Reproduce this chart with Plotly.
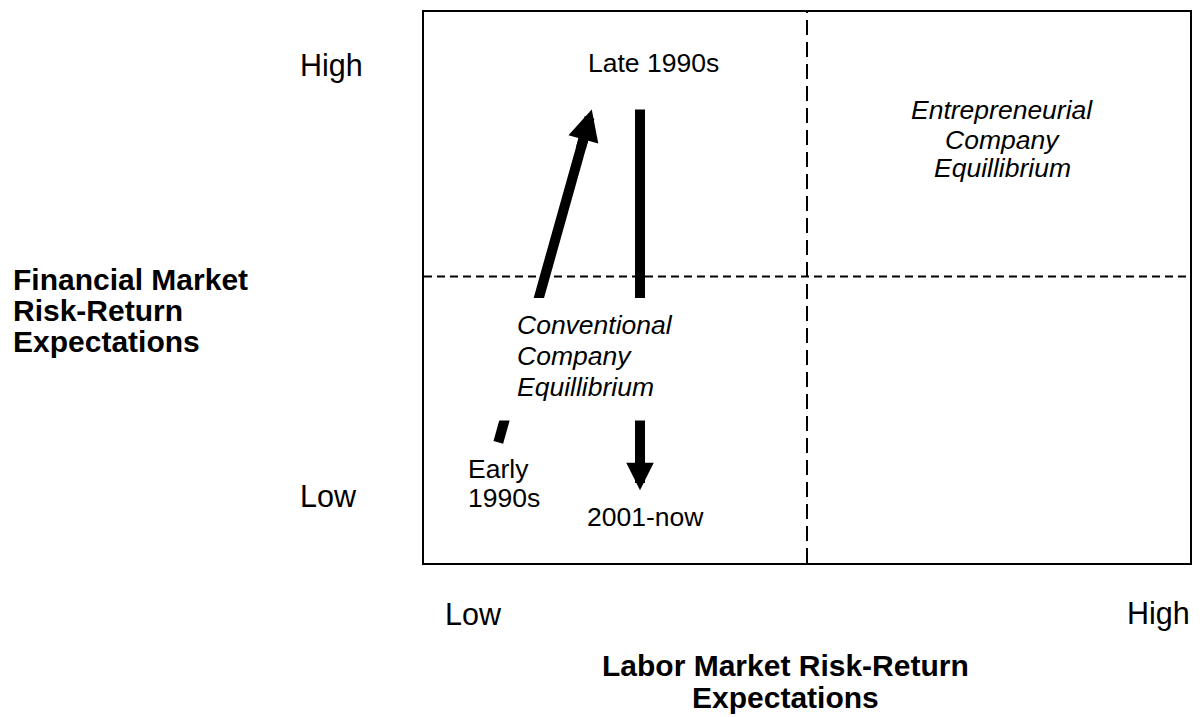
import plotly.graph_objects as go

# ---------------- data (conceptual units: 0 = Low, 1 = High) ----------------
levels = ["Low", "High"]
x_title = ["Labor Market Risk-Return", "Expectations"]
y_title = ["Financial Market", "Risk-Return", "Expectations"]

phases = ["Early 1990s", "Late 1990s", "2001-now"]
# path 1: early 1990s -> late 1990s (labor, financial)
rise_labor = [0.097, 0.219]
rise_fin = [0.219, 0.823]
# path 2: late 1990s -> 2001-now
fall_labor = [0.282, 0.282]
fall_fin = [0.823, 0.132]

divider_labor = 0.5
divider_fin = 0.52

conventional_label = ["Conventional", "Company", "Equillibrium"]
entrepreneurial_label = ["Entrepreneurial", "Company", "Equillibrium"]

# ---------------- layout geometry ----------------
W, H = 1202, 717
L, R, T, B = 424, 12, 10, 154
PW, PH = W - L - R, H - T - B


def xp(px):
    return (px - L) / PW


def yp(py):
    return (H - B - py) / PH


FONT = "Arial, 'Liberation Sans', sans-serif"
OUT = 30.5
TITLE = 30
INS = 26.5

fig = go.Figure()


def lerp(a, b, t):
    return a + (b - a) * t


# arrow bodies (end a little before the tip, the head covers the end)
fig.add_trace(go.Scatter(
    x=[rise_labor[0], lerp(rise_labor[0], rise_labor[1], 0.94)],
    y=[rise_fin[0], lerp(rise_fin[0], rise_fin[1], 0.94)],
    mode="lines", line=dict(color="black", width=10), hoverinfo="skip",
    showlegend=False))
fig.add_trace(go.Scatter(
    x=[fall_labor[0], fall_labor[1]],
    y=[fall_fin[0], lerp(fall_fin[0], fall_fin[1], 0.94)],
    mode="lines", line=dict(color="black", width=10), hoverinfo="skip",
    showlegend=False))

shapes = [
    dict(type="line", xref="x", yref="y", x0=divider_labor, x1=divider_labor,
         y0=0, y1=1, line=dict(color="black", width=2, dash="15px,7px"),
         layer="below"),
    dict(type="line", xref="x", yref="y", x0=0, x1=1, y0=divider_fin,
         y1=divider_fin, line=dict(color="black", width=2, dash="8px,5px"),
         layer="below"),
    # white band behind the "Conventional Company Equillibrium" label
    dict(type="rect", xref="x", yref="y", x0=0.05, x1=0.35,
         y0=yp(420), y1=yp(297), fillcolor="white", line=dict(width=0),
         layer="above"),
]

ann = []
# arrow heads
ann.append(dict(x=rise_labor[1], y=rise_fin[1], xref="x", yref="y",
                ax=lerp(rise_labor[1], rise_labor[0], 0.12),
                ay=lerp(rise_fin[1], rise_fin[0], 0.12),
                axref="x", ayref="y", text="", showarrow=True,
                arrowhead=2, arrowsize=0.62, arrowwidth=10,
                arrowcolor="black", standoff=0))
ann.append(dict(x=fall_labor[1], y=fall_fin[1], xref="x", yref="y",
                ax=fall_labor[1], ay=lerp(fall_fin[1], fall_fin[0], 0.15),
                axref="x", ayref="y", text="", showarrow=True,
                arrowhead=2, arrowsize=0.55, arrowwidth=10,
                arrowcolor="black", standoff=0))


def txt(s, x, y, size, xa="left", bold=False, italic=False):
    if bold:
        s = "<b>" + s + "</b>"
    if italic:
        s = "<i>" + s + "</i>"
    ann.append(dict(text=s, x=x, y=y, xref="paper", yref="paper",
                    xanchor=xa, yanchor="middle", showarrow=False,
                    font=dict(family=FONT, size=size, color="black")))


# phase labels
txt(phases[1], xp(653), yp(61), INS, xa="center")
txt("Early", xp(466), yp(469), INS)
txt("1990s", xp(466), yp(498), INS)
txt(phases[2], xp(645), yp(517), INS, xa="center")

# quadrant labels
for s, py in zip(conventional_label, [324, 355, 386]):
    txt(s, xp(515), yp(py), INS, italic=True)
for s, py in zip(entrepreneurial_label, [108, 138, 167]):
    txt(s, xp(1002), yp(py), INS, xa="center", italic=True)

# axis level labels
txt(levels[1], xp(298), yp(64), OUT)
txt(levels[0], xp(298), yp(496), OUT)
txt(levels[0], xp(443), yp(614), OUT)
txt(levels[1], xp(1192), yp(614), OUT, xa="right")

# axis titles
for s, py in zip(y_title, [278, 309.5, 341]):
    txt(s, xp(11), yp(py), TITLE, bold=True)
for s, py in zip(x_title, [666, 697.5]):
    txt(s, xp(785), yp(py), TITLE, xa="center", bold=True)

axis_common = dict(range=[0, 1], showgrid=False, zeroline=False,
                   showticklabels=False, ticks="", showline=True,
                   mirror=True, linecolor="black", linewidth=2,
                   fixedrange=True)

fig.update_layout(
    width=W, height=H,
    margin=dict(l=L, r=R, t=T, b=B, pad=0),
    paper_bgcolor="white", plot_bgcolor="white",
    xaxis=axis_common, yaxis=axis_common,
    shapes=shapes, annotations=ann,
    showlegend=False, hovermode=False,
)

fig.write_html(
    "out.html",
    config={"displayModeBar": False},
    post_script="document.body.style.margin='0';"
                "document.body.style.overflow='hidden';",
)
